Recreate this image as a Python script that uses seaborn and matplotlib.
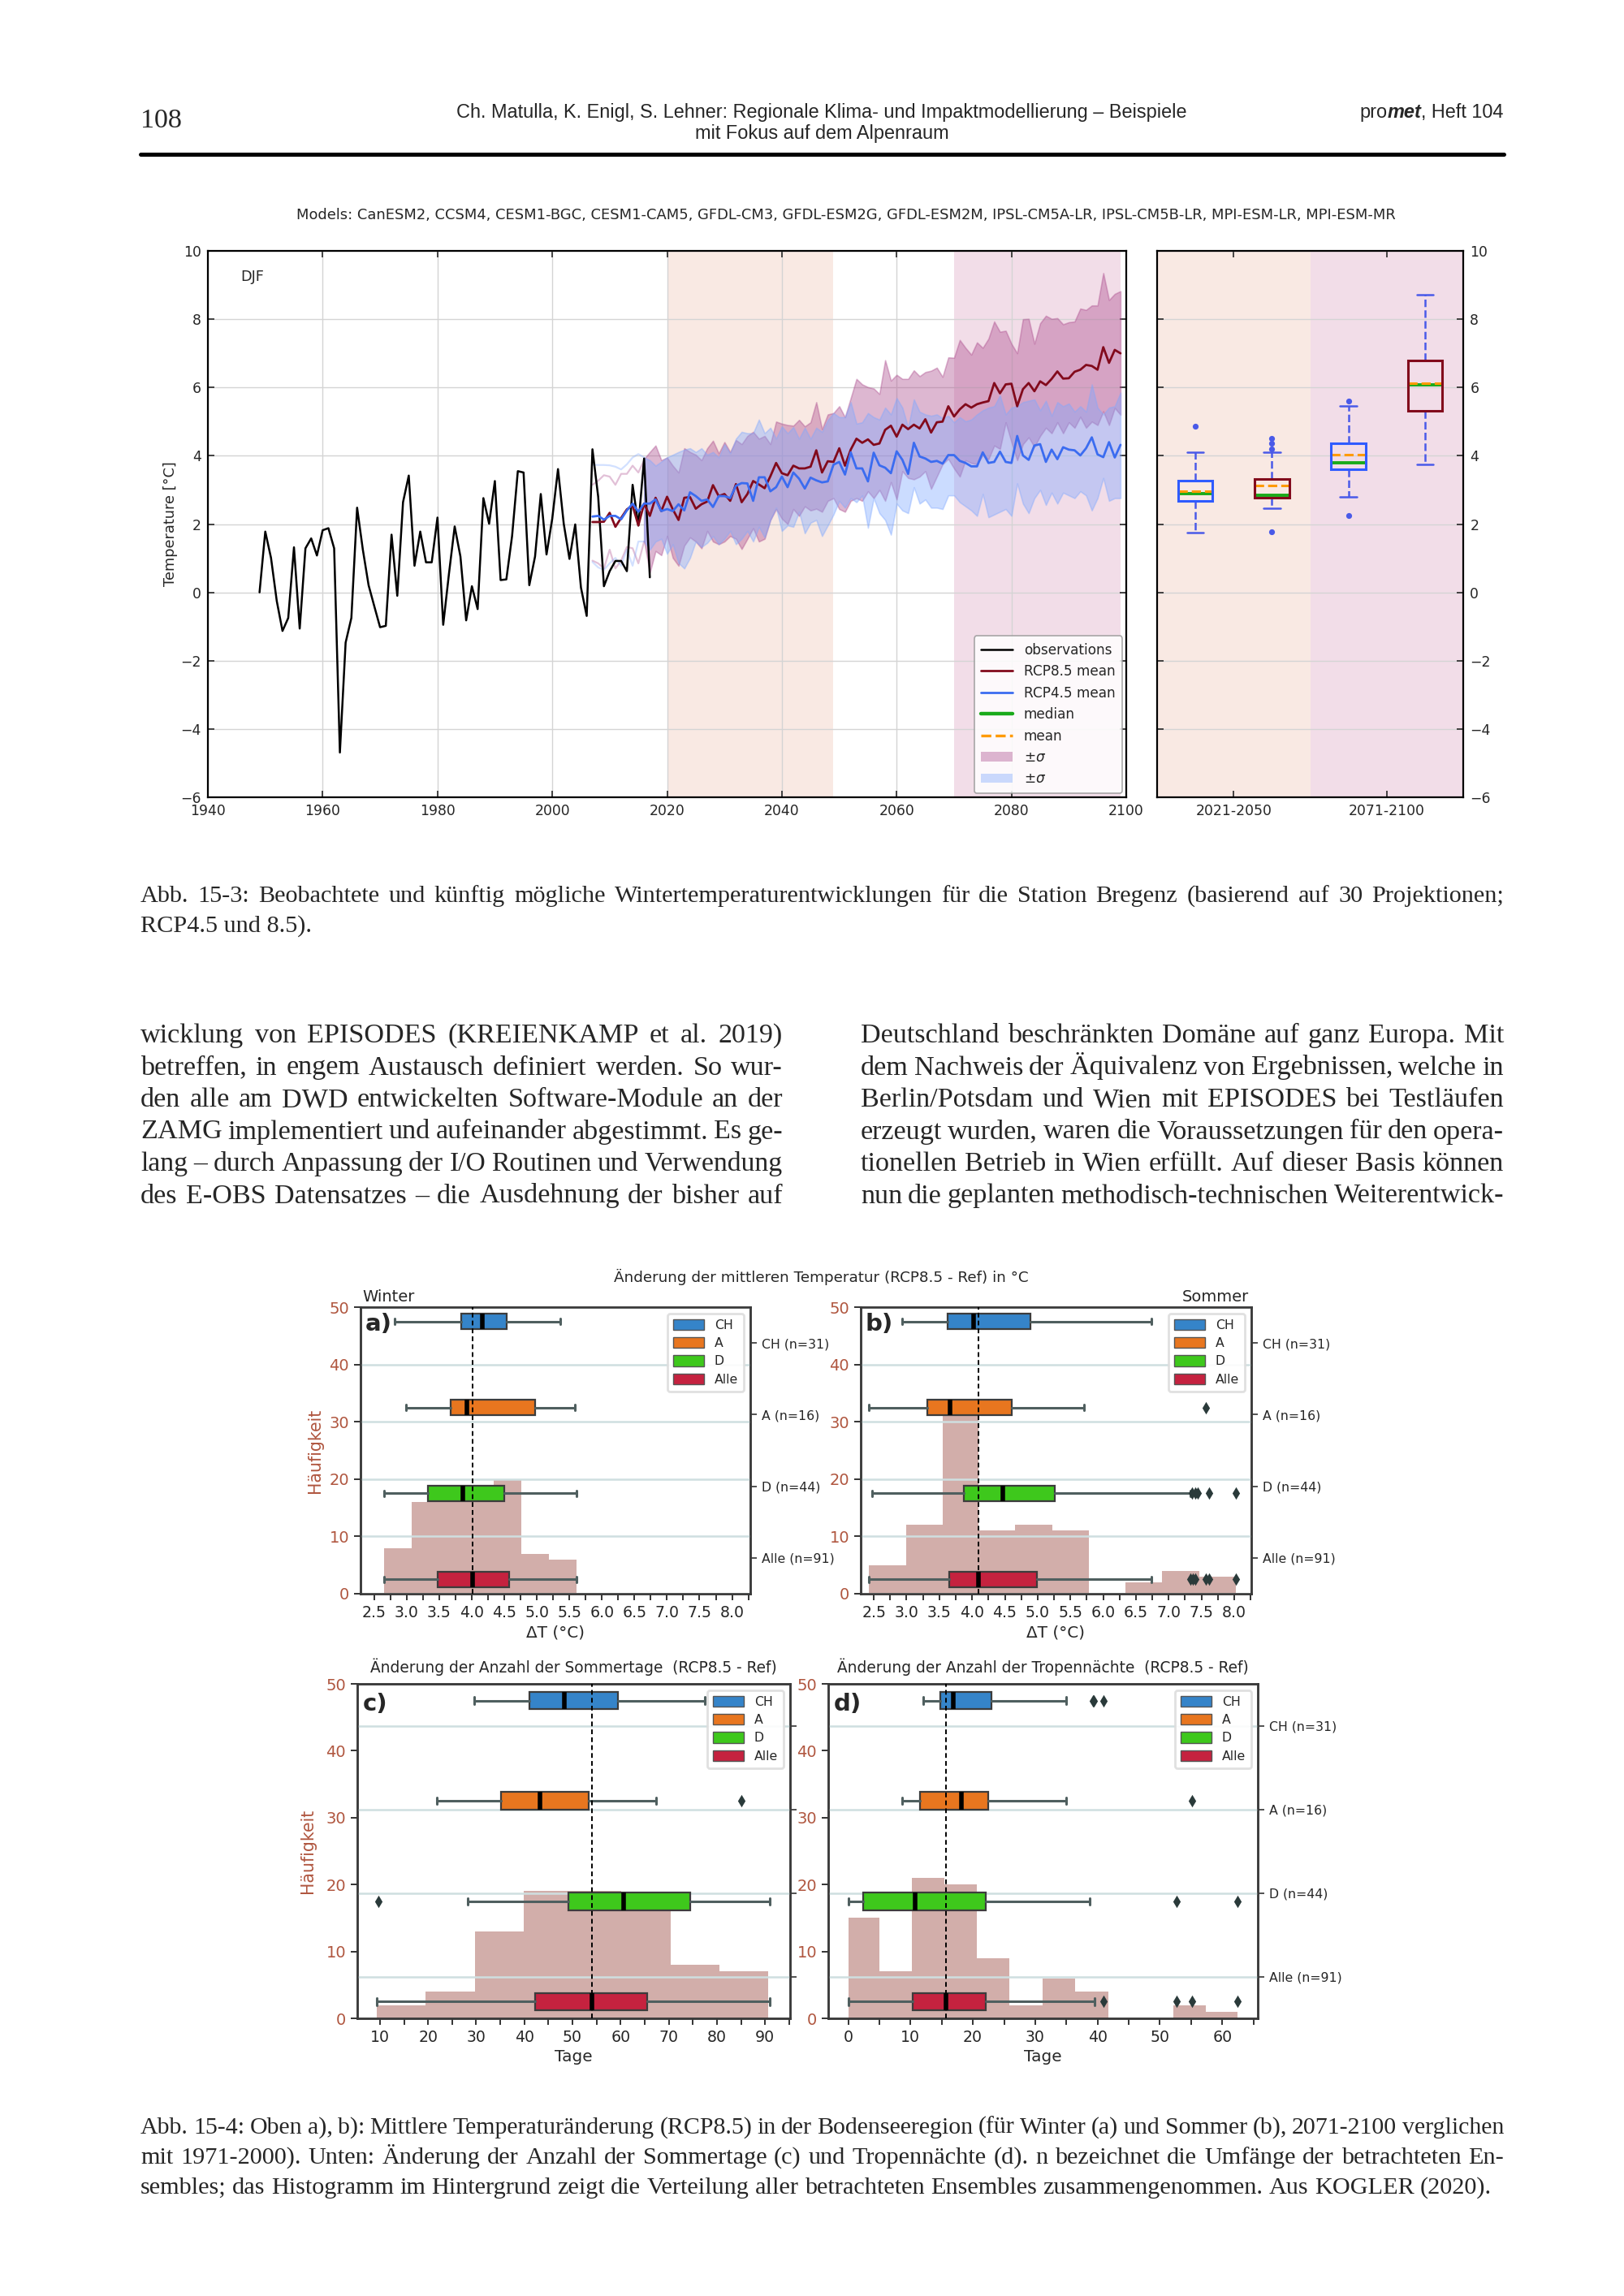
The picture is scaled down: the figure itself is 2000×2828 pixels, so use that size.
import matplotlib
matplotlib.use("Agg")
import matplotlib.pyplot as plt
from matplotlib import font_manager
from matplotlib.lines import Line2D
from matplotlib.patches import Patch
from matplotlib.ticker import MultipleLocator, FormatStrFormatter
import seaborn as sns

# ---------------- Abb. 15-3 : DJF temperature Bregenz ----------------
obs_years = list(range(1949, 2018))
obs_temp = [0.0, 1.78, 1.01, -0.25, -1.13, -0.75, 1.32, -1.06, 1.29, 1.58, 1.08,
            1.82, 1.88, 1.29, -4.69, -1.47, -0.75, 2.48, 1.25, 0.21, -0.41,
            -1.02, -0.98, 1.69, -0.10, 2.64, 3.42, 0.78, 1.78, 0.88, 0.88,
            2.19, -0.95, 0.54, 1.93, 1.05, -0.82, 0.18, -0.49, 2.76, 2.01,
            3.26, 0.36, 0.38, 1.65, 3.55, 3.51, 0.21, 1.05, 2.88, 1.11,
            2.16, 3.61, 2.01, 0.98, 1.99, 0.14, -0.69, 4.19, 2.80, 0.18,
            0.62, 0.92, 0.92, 0.62, 3.15, 1.96, 3.92, 0.44]

proj_years = list(range(2007, 2100))
rcp85_mean = [2.06, 2.06, 2.07, 2.33, 1.92, 2.18, 2.43, 2.54, 1.96, 2.60,
              2.24, 2.77, 2.38, 2.80, 2.43, 2.12, 2.77, 2.79, 2.45, 2.58,
              2.66, 3.14, 2.82, 2.88, 2.68, 3.17, 2.64, 2.88, 3.26, 3.16,
              3.05, 3.40, 3.79, 3.49, 3.43, 3.71, 3.63, 3.63, 3.68, 4.16,
              3.51, 3.84, 3.82, 4.22, 3.71, 4.18, 4.50, 4.38, 4.48, 4.32,
              4.36, 4.76, 4.88, 4.56, 4.91, 4.78, 4.91, 4.80, 5.07, 4.68,
              4.98, 5.00, 5.45, 5.15, 5.36, 5.51, 5.41, 5.51, 5.56, 5.60,
              6.13, 5.83, 6.09, 6.11, 5.45, 5.95, 6.13, 5.89, 6.18, 6.07,
              6.25, 6.47, 6.26, 6.27, 6.46, 6.52, 6.66, 6.63, 6.52, 7.18,
              6.72, 7.10, 7.00]
rcp45_mean = [2.22, 2.24, 2.13, 2.24, 2.24, 2.14, 2.40, 2.60, 2.36, 2.60,
              2.60, 2.72, 2.38, 2.44, 2.38, 2.58, 2.40, 2.93, 2.82, 2.68,
              2.72, 2.50, 2.82, 2.82, 2.76, 3.12, 3.20, 3.19, 2.68, 3.37,
              3.37, 2.96, 3.08, 3.39, 3.08, 3.51, 3.33, 3.04, 3.36, 3.28,
              3.22, 3.25, 3.74, 3.82, 3.45, 4.10, 3.63, 3.63, 3.25, 4.09,
              3.72, 3.65, 3.49, 4.13, 3.88, 3.47, 4.38, 3.98, 3.92, 3.82,
              3.85, 3.77, 4.02, 4.02, 3.85, 3.79, 3.69, 3.69, 4.10, 3.79,
              3.82, 4.12, 3.82, 3.79, 4.58, 4.01, 3.88, 4.30, 4.34, 3.82,
              4.18, 3.90, 4.25, 4.18, 4.16, 4.01, 4.22, 4.54, 4.04, 3.96,
              4.40, 3.95, 4.32]

band_years = list(range(2016, 2100))
rcp85_hi = [3.91, 4.11, 4.30, 3.87, 3.95, 3.71, 3.51, 4.22, 4.11, 4.03,
            3.87, 4.22, 4.44, 4.07, 4.40, 4.11, 4.46, 4.34, 4.58, 4.70,
            4.50, 4.58, 4.34, 5.00, 4.94, 4.90, 4.88, 5.05, 4.86, 4.98,
            5.57, 4.78, 5.21, 5.25, 5.45, 5.13, 5.69, 6.25, 6.09, 6.01,
            5.97, 5.81, 6.80, 6.20, 6.37, 6.25, 6.25, 6.50, 6.33, 6.45,
            6.49, 6.58, 6.31, 6.88, 6.87, 7.39, 7.16, 6.96, 7.32, 7.16,
            7.43, 7.93, 7.63, 7.66, 7.28, 7.00, 8.00, 8.01, 7.28, 7.88,
            8.10, 8.01, 8.03, 7.85, 7.91, 7.93, 8.31, 8.27, 8.40, 8.40,
            9.35, 8.56, 8.74, 8.82]
rcp85_lo = [1.50, 0.58, 1.21, 1.09, 1.65, 1.01, 0.78, 1.37, 1.61, 1.49,
            1.29, 1.80, 1.49, 1.41, 1.49, 1.65, 1.57, 1.27, 1.57, 1.88,
            1.49, 1.57, 2.12, 2.44, 2.16, 2.00, 2.44, 2.24, 2.52, 2.40,
            2.45, 2.36, 2.68, 2.76, 2.44, 2.36, 2.68, 2.76, 2.68, 2.96,
            2.76, 3.00, 2.68, 3.23, 2.72, 3.55, 3.35, 3.31, 3.39, 3.55,
            3.03, 3.39, 3.75, 3.91, 3.63, 3.39, 3.87, 3.79, 3.75, 4.02,
            3.90, 4.30, 4.20, 4.98, 4.40, 3.87, 4.34, 4.54, 4.26, 4.58,
            4.82, 4.66, 4.98, 4.66, 4.98, 4.82, 5.14, 4.82, 5.00, 4.90,
            5.30, 4.90, 5.40, 5.20]
rcp45_hi = [3.95, 3.87, 3.71, 3.83, 3.95, 4.03, 4.11, 4.18, 4.22, 4.11,
            4.22, 4.03, 4.11, 3.95, 4.34, 4.07, 4.50, 4.70, 4.66, 4.66,
            5.06, 4.66, 4.82, 4.50, 4.86, 4.66, 4.84, 4.50, 4.82, 4.50,
            4.82, 4.70, 5.05, 5.25, 5.13, 5.13, 5.57, 4.94, 4.98, 5.25,
            5.13, 5.06, 5.41, 5.21, 5.69, 5.41, 4.82, 5.65, 5.29, 5.21,
            5.17, 5.21, 5.10, 5.17, 4.98, 5.13, 5.01, 5.06, 5.21, 5.33,
            5.41, 5.45, 5.77, 5.21, 5.41, 5.45, 5.57, 5.61, 5.65, 5.33,
            5.61, 5.17, 5.57, 5.45, 5.53, 5.29, 5.45, 5.29, 6.09, 5.41,
            5.21, 5.41, 5.45, 5.85]
rcp45_lo = [1.49, 1.25, 1.49, 1.57, 1.13, 1.41, 0.86, 0.70, 1.01, 1.49,
            1.33, 1.45, 1.65, 1.41, 1.57, 1.80, 1.41, 1.57, 1.80, 1.49,
            1.92, 1.61, 2.12, 2.48, 1.80, 1.96, 1.92, 2.36, 1.73, 2.04,
            2.12, 1.65, 1.96, 2.28, 2.68, 2.48, 2.76, 2.64, 2.84, 1.89,
            2.76, 2.32, 2.12, 1.69, 2.60, 2.40, 2.32, 3.08, 2.60, 2.72,
            2.48, 2.48, 2.44, 2.84, 2.84, 2.64, 2.52, 2.40, 2.24, 2.88,
            2.20, 2.28, 2.36, 2.44, 2.24, 3.19, 2.60, 2.32, 2.76, 3.00,
            2.56, 2.92, 2.60, 2.92, 2.84, 2.76, 2.96, 2.84, 2.40, 2.76,
            3.35, 2.68, 2.76, 2.76]

early_years = list(range(2007, 2017))
early85_hi = [3.15, 3.27, 3.43, 3.39, 3.15, 3.47, 3.47, 3.71, 3.51, 3.87]
early85_lo = [0.93, 0.85, 0.70, 1.25, 0.70, 0.93, 1.33, 1.29, 0.85, 1.49]
early45_hi = [3.74, 3.73, 3.73, 3.72, 3.68, 3.60, 3.75, 3.95, 4.05, 3.95]
early45_lo = [0.89, 0.73, 0.66, 0.85, 1.01, 0.78, 1.25, 0.78, 1.49, 1.49]

models_line = ("Models: CanESM2, CCSM4, CESM1-BGC, CESM1-CAM5, GFDL-CM3, GFDL-ESM2G, "
               "GFDL-ESM2M, IPSL-CM5A-LR, IPSL-CM5B-LR, MPI-ESM-LR, MPI-ESM-MR")

# period boxplots: RCP4.5 / RCP8.5 for 2021-2050, then 2071-2100
period_labels = ["2021-2050", "2071-2100"]
pbox_lo = [1.75, 2.46, 2.79, 3.75]
pbox_q1 = [2.68, 2.78, 3.60, 5.31]
pbox_med = [2.88, 2.84, 3.80, 6.08]
pbox_mean = [2.97, 3.13, 4.03, 6.13]
pbox_q3 = [3.28, 3.31, 4.37, 6.78]
pbox_hi = [4.11, 4.10, 5.46, 8.71]
pbox_fliers = [[4.86], [4.21, 4.36, 4.50, 1.78], [5.59, 2.24], []]

# ---------------- Abb. 15-4 : histograms + boxplots ----------------
regions = ["CH", "A", "D", "Alle"]
region_n = [31, 16, 44, 91]

a_edges = [2.65, 3.07, 3.49, 3.91, 4.34, 4.76, 5.18, 5.61]
a_counts = [8, 16, 16, 18, 20, 7, 6]
a_lo = [2.81, 2.99, 2.65, 2.65]
a_q1 = [3.84, 3.67, 3.32, 3.48]
a_med = [4.16, 3.92, 3.86, 4.01]
a_q3 = [4.54, 4.97, 4.50, 4.57]
a_hi = [5.36, 5.58, 5.61, 5.61]
a_fliers = [[], [], [], []]
a_ref = 4.01

b_edges = [2.43, 2.99, 3.55, 4.10, 4.66, 5.22, 5.78, 6.34, 6.90, 7.47, 8.03]
b_counts = [5, 12, 31, 11, 12, 11, 0, 2, 4, 3]
b_lo = [2.93, 2.42, 2.47, 2.42]
b_q1 = [3.62, 3.32, 3.87, 3.65]
b_med = [4.02, 3.66, 4.47, 4.10]
b_q3 = [4.89, 4.60, 5.26, 4.99]
b_hi = [6.73, 5.71, 7.33, 6.73]
b_fliers = [[], [7.56], [7.36, 7.40, 7.44, 7.61, 8.03], [7.33, 7.37, 7.41, 7.56, 7.61, 8.03]]
b_ref = 4.10

c_edges = [9.4, 19.5, 29.7, 39.9, 50.0, 60.2, 70.4, 80.5, 90.7]
c_counts = [2, 4, 13, 19, 19, 16, 8, 7]
c_lo = [29.6, 21.9, 28.3, 9.4]
c_q1 = [41.0, 35.1, 49.2, 42.2]
c_med = [48.3, 43.2, 60.7, 54.0]
c_q3 = [59.5, 53.4, 74.5, 65.5]
c_hi = [77.5, 67.3, 91.0, 91.0]
c_fliers = [[], [85.0], [9.65], []]
c_ref = 54.0

d_edges = [0.0, 5.0, 10.2, 15.4, 20.7, 25.9, 31.2, 36.4, 41.7, 46.9, 52.1, 57.3, 62.4]
d_counts = [15, 7, 21, 20, 9, 2, 6, 4, 0, 0, 2, 1]
d_lo = [12.05, 8.65, 0.0, 0.0]
d_q1 = [14.76, 11.5, 2.43, 10.4]
d_med = [16.9, 18.2, 10.7, 15.7]
d_q3 = [23.0, 22.5, 22.05, 22.05]
d_hi = [34.9, 35.0, 38.8, 39.5]
d_fliers = [[39.2, 39.4, 40.9], [55.1], [52.7, 62.5], [40.9, 52.7, 55.1, 62.5]]
d_ref = 15.7

# ---------------- page text ----------------
header_line1 = "Ch. Matulla, K. Enigl, S. Lehner: Regionale Klima- und Impaktmodellierung \u2013 Beispiele"
header_line2 = "mit Fokus auf dem Alpenraum"
caption1 = ["Abb. 15-3: Beobachtete und k\u00fcnftig m\u00f6gliche Wintertemperaturentwicklungen f\u00fcr die Station Bregenz (basierend auf 30 Projektionen;",
            "RCP4.5 und 8.5)."]
body_left = ["wicklung von EPISODES (KREIENKAMP et al. 2019)",
             "betreffen, in engem Austausch definiert werden. So wur-",
             "den alle am DWD entwickelten Software-Module an der",
             "ZAMG implementiert und aufeinander abgestimmt. Es ge-",
             "lang \u2013 durch Anpassung der I/O Routinen und Verwendung",
             "des E-OBS Datensatzes \u2013 die Ausdehnung der bisher auf"]
body_right = ["Deutschland beschr\u00e4nkten Dom\u00e4ne auf ganz Europa. Mit",
              "dem Nachweis der \u00c4quivalenz von Ergebnissen, welche in",
              "Berlin/Potsdam und Wien mit EPISODES bei Testl\u00e4ufen",
              "erzeugt wurden, waren die Voraussetzungen f\u00fcr den opera-",
              "tionellen Betrieb in Wien erf\u00fcllt. Auf dieser Basis k\u00f6nnen",
              "nun die geplanten methodisch-technischen Weiterentwick-"]
caption2 = ["Abb. 15-4: Oben a), b): Mittlere Temperatur\u00e4nderung (RCP8.5) in der Bodenseeregion (f\u00fcr Winter (a) und Sommer (b), 2071-2100 verglichen",
            "mit 1971-2000). Unten: \u00c4nderung der Anzahl der Sommertage (c) und Tropenn\u00e4chte (d). n bezeichnet die Umf\u00e4nge der betrachteten En-",
            "sembles; das Histogramm im Hintergrund zeigt die Verteilung aller betrachteten Ensembles zusammengenommen. Aus KOGLER (2020)."]

# ---------------- style ----------------
W, H, DPI = 2000, 2828, 200
sns.set_style("ticks")
plt.rcParams["font.family"] = ["DejaVu Sans"]
plt.rcParams["mathtext.fontset"] = "dejavusans"

have = {f.name for f in font_manager.fontManager.ttflist}
SERIF = "Liberation Serif" if "Liberation Serif" in have else "DejaVu Serif"
NARROW = "Liberation Sans Narrow" if "Liberation Sans Narrow" in have else "Liberation Sans"

RED_LINE, BLUE_LINE = "#820a1c", "#3b6cf0"
RED_BAND, BLUE_BAND = "#ac4d8e", "#7fa8ff"
PEACH, PINK = "#f9e9e3", "#f2dde8"
HIST_C = "#d2aeaa"
REG_C = ["#3584c9", "#e8761f", "#3ec81c", "#c5223f"]
BROWN = "#b0563f"

fig = plt.figure(figsize=(W / DPI, H / DPI), dpi=DPI)
renderer = fig.canvas.get_renderer()


def px_axes(x0, y0, x1, y1):
    return fig.add_axes([x0 / W, 1 - y1 / H, (x1 - x0) / W, (y1 - y0) / H])


def text_px(x, y, s, **kw):
    return fig.text(x / W, 1 - y / H, s, **kw)


def width_px(t):
    return t.get_window_extent(renderer).width


def fit_size(s, target, family, size0=10, **kw):
    t = text_px(0, 0, s, fontsize=size0, family=family, **kw)
    w = width_px(t)
    t.remove()
    return size0 * target / w


def justify(line, x0, x1, base, size, family):
    words = line.split()
    while True:
        arts = [text_px(0, base, w, fontsize=size, family=family, va="baseline") for w in words]
        ws = [width_px(a) for a in arts]
        gap = (x1 - x0 - sum(ws)) / max(len(words) - 1, 1)
        if gap >= 0.2 * size * DPI / 72 or size < 6:
            break
        for a in arts:
            a.remove()
        size *= 0.985
    x = x0
    for a, w in zip(arts, ws):
        a.set_x(x / W)
        x += w + gap


def boxes(ax, stats, pos, width, cap, horizontal, **kw):
    try:
        return ax.bxp(stats, positions=pos, widths=width, capwidths=cap,
                      orientation="horizontal" if horizontal else "vertical", **kw)
    except TypeError:
        return ax.bxp(stats, positions=pos, widths=width, capwidths=cap,
                      vert=not horizontal, **kw)


# ---------------- header ----------------
text_px(173, 157, "108", fontsize=12.3, family=SERIF, va="baseline")
hs = fit_size(header_line1, 896, NARROW)
text_px(1012, 145, header_line1, fontsize=hs, family=NARROW, ha="center", va="baseline")
text_px(1012, 171, header_line2, fontsize=hs, family=NARROW, ha="center", va="baseline")
runs = [("pro", "normal", "normal"), ("met", "bold", "italic"), (", Heft 104", "normal", "normal")]
arts = [text_px(0, 145, s, fontsize=hs, family=NARROW, weight=wt, style=st, va="baseline")
        for s, wt, st in runs]
x = 1852 - sum(width_px(a) for a in arts)
for a in arts:
    a.set_x(x / W)
    x += width_px(a)
fig.add_artist(Line2D([173 / W, 1852 / W], [1 - 190 / H] * 2, lw=1.8, color="black",
                      transform=fig.transFigure))

# ---------------- top figure ----------------
ms = fit_size(models_line, 1352, "DejaVu Sans")
text_px(1042, 265, models_line, fontsize=ms, ha="center", va="center")

ax = px_axes(256, 309, 1387, 982)
ax.axvspan(2020, 2049, color=PEACH, zorder=0.2, lw=0)
ax.axvspan(2070, 2099, color=PINK, zorder=0.2, lw=0)
ax.fill_between(band_years, rcp85_lo, rcp85_hi, color=RED_BAND, alpha=0.4, lw=0.6, zorder=1)
ax.fill_between(band_years, rcp45_lo, rcp45_hi, color=BLUE_BAND, alpha=0.4, lw=0.6, zorder=1.1)
for vals, col in [(early85_hi, RED_BAND), (early85_lo, RED_BAND),
                  (early45_hi, BLUE_BAND), (early45_lo, BLUE_BAND)]:
    sns.lineplot(x=early_years, y=vals, ax=ax, color=col, alpha=0.35, linewidth=0.8,
                 legend=False, zorder=1.2)
sns.lineplot(x=obs_years, y=obs_temp, ax=ax, color="black", linewidth=0.9, legend=False, zorder=3)
sns.lineplot(x=proj_years, y=rcp85_mean, ax=ax, color=RED_LINE, linewidth=1.0, legend=False, zorder=3)
sns.lineplot(x=proj_years, y=rcp45_mean, ax=ax, color=BLUE_LINE, linewidth=1.0, legend=False, zorder=3)
ax.set_xlim(1940, 2100)
ax.set_ylim(-6, 10)
ax.xaxis.set_major_locator(MultipleLocator(20))
ax.yaxis.set_major_locator(MultipleLocator(2))
ax.grid(True, color="#d4d4d4", lw=0.5)
ax.set_axisbelow(True)
ax.tick_params(direction="in", top=True, right=True, length=3, width=0.6, labelsize=6.2, pad=3)
for sp in ax.spines.values():
    sp.set_linewidth(0.8)
    sp.set_color("black")
ax.set_xlabel("")
ax.set_ylabel("Temperature [\u00b0C]", fontsize=6.4)
ax.yaxis.set_label_coords(-0.033, 0.5)
ax.text(0.036, 0.952, "DJF", transform=ax.transAxes, fontsize=6.4, va="center")
handles = [Line2D([], [], color="black", lw=0.9),
           Line2D([], [], color=RED_LINE, lw=1.0),
           Line2D([], [], color=BLUE_LINE, lw=1.0),
           Line2D([], [], color="#1aaa1a", lw=1.6),
           Line2D([], [], color="#ff9a00", lw=1.2, ls="--"),
           Patch(facecolor=RED_BAND, alpha=0.4, lw=0),
           Patch(facecolor=BLUE_BAND, alpha=0.4, lw=0)]
labels = ["observations", "RCP8.5 mean", "RCP4.5 mean", "median", "mean",
          r"$\pm\sigma$", r"$\pm\sigma$"]
leg = ax.legend(handles, labels, loc="lower right", fontsize=6.1, handlelength=2.3,
                labelspacing=0.5, borderpad=0.5, borderaxespad=0.3, framealpha=0.85,
                edgecolor="#999999", fancybox=True)
leg.get_frame().set_linewidth(0.6)

axr = px_axes(1425, 309, 1802, 982)
axr.axvspan(0, 2, color=PEACH, lw=0, zorder=0.2)
axr.axvspan(2, 4, color=PINK, lw=0, zorder=0.2)
pstats = [dict(whislo=pbox_lo[i], q1=pbox_q1[i], med=pbox_med[i], mean=pbox_mean[i],
               q3=pbox_q3[i], whishi=pbox_hi[i], fliers=pbox_fliers[i]) for i in range(4)]
wcol = "#4a5ae8"
bp = boxes(axr, pstats, [0.5, 1.5, 2.5, 3.5], 0.45, 0.22, False,
           patch_artist=True, showmeans=True, meanline=True,
           boxprops=dict(facecolor="none", lw=1.1),
           medianprops=dict(color="#1aaa1a", lw=1.4),
           meanprops=dict(color="#ff9a00", lw=1.1, ls="--"),
           whiskerprops=dict(color=wcol, lw=0.9, ls="--"),
           capprops=dict(color=wcol, lw=0.9),
           flierprops=dict(marker="o", markersize=2.6, markerfacecolor=wcol, markeredgecolor="none"))
for patch, col in zip(bp["boxes"], ["#2f5bff", RED_LINE, "#2f5bff", RED_LINE]):
    patch.set_edgecolor(col)
    patch.set_zorder(3)
axr.set_xlim(0, 4)
axr.set_ylim(-6, 10)
axr.set_xticks([1, 3])
axr.set_xticklabels(period_labels)
axr.yaxis.set_major_locator(MultipleLocator(2))
axr.yaxis.grid(True, color="#d4d4d4", lw=0.5)
axr.set_axisbelow(True)
axr.tick_params(direction="in", top=True, right=True, left=True, labelleft=False,
                labelright=True, length=3, width=0.6, labelsize=6.2, pad=3)
for sp in axr.spines.values():
    sp.set_linewidth(0.8)
    sp.set_color("black")

# ---------------- captions + body ----------------
CAP_SIZE, BODY_SIZE = 10.9, 12.3
justify(caption1[0], 173, 1852, 1111, CAP_SIZE, SERIF)
text_px(173, 1148, caption1[1], fontsize=CAP_SIZE, family=SERIF, va="baseline")
for i, line in enumerate(body_left):
    justify(line, 173, 964, 1284 + 39.5 * i, BODY_SIZE, SERIF)
for i, line in enumerate(body_right):
    justify(line, 1060, 1852, 1284 + 39.5 * i, BODY_SIZE, SERIF)
justify(caption2[0], 173, 1852, 2628, CAP_SIZE, SERIF)
justify(caption2[1], 173, 1852, 2665, CAP_SIZE, SERIF)
justify(caption2[2], 173, 1837, 2702, CAP_SIZE, SERIF)


# ---------------- Abb. 15-4 panels ----------------
def panel(rect, edges, counts, lo, q1, med, q3, hi, fliers, ref, xlim, major, minor, fmt,
          xlabel, ylabel, right_labels, twin_grid, letter):
    ax = px_axes(*rect)
    centers = [(edges[i] + edges[i + 1]) / 2 for i in range(len(counts))]
    sns.histplot(x=centers, weights=counts, bins=edges, ax=ax, color=HIST_C, alpha=1.0,
                 linewidth=0, legend=False, zorder=1)
    ax.set_xlim(*xlim)
    ax.set_ylim(0, 50)
    ax.yaxis.set_major_locator(MultipleLocator(10))
    ax.xaxis.set_major_locator(MultipleLocator(major))
    ax.xaxis.set_minor_locator(MultipleLocator(minor))
    ax.xaxis.set_major_formatter(FormatStrFormatter(fmt))
    if not twin_grid:
        ax.yaxis.grid(True, color="#cfdfe0", lw=0.9)
        ax.set_axisbelow(False)
    ax.tick_params(axis="x", which="both", direction="out", length=3, width=0.7,
                   labelsize=6.8, pad=2, color="#333333")
    ax.tick_params(axis="y", direction="out", length=3, width=0.7, labelsize=7,
                   labelcolor=BROWN, pad=2, color="#333333")
    ax.set_xlabel(xlabel, fontsize=7.2, labelpad=2)
    ax.set_ylabel(ylabel, fontsize=7.4, color=BROWN)
    ax.yaxis.set_label_coords(-0.095, 0.5)

    ax2 = ax.twinx()
    st = [dict(whislo=lo[i], q1=q1[i], med=med[i], q3=q3[i], whishi=hi[i], fliers=fliers[i])
          for i in range(4)]
    bp = boxes(ax2, st, [3.8, 2.6, 1.4, 0.2], 0.21, 0.08, True, patch_artist=True,
               boxprops=dict(edgecolor="#3c3c3c", lw=0.8),
               medianprops=dict(color="black", lw=2.0),
               whiskerprops=dict(color="#4f5f5f", lw=1.1),
               capprops=dict(color="#4f5f5f", lw=1.1),
               flierprops=dict(marker="d", markersize=2.4, markerfacecolor="#2a3a3a",
                               markeredgecolor="#2a3a3a"))
    for patch, col in zip(bp["boxes"], REG_C):
        patch.set_facecolor(col)
    ax2.axvline(ref, color="black", lw=0.7, ls=(0, (3, 2)), zorder=4)
    ax2.set_ylim(0, 4)
    ax2.set_xlim(*xlim)
    ax2.set_yticks([3.5, 2.5, 1.5, 0.5])
    ax2.set_yticklabels([f"{r} (n={n})" for r, n in zip(regions, region_n)])
    ax2.tick_params(axis="y", direction="out", length=3, width=0.6, labelsize=5.7, pad=2,
                    labelright=right_labels, color="#333333")
    if twin_grid:
        ax2.yaxis.grid(True, color="#cfdfe0", lw=0.9)
    for a in (ax, ax2):
        for sp in a.spines.values():
            sp.set_color("#3a3a3a")
            sp.set_linewidth(0.9)
    ax2.legend([Patch(facecolor=c, edgecolor="#555555", lw=0.5) for c in REG_C], regions,
               loc="upper right", fontsize=5.7, handlelength=2.4, handleheight=0.9,
               labelspacing=0.45, borderpad=0.45, borderaxespad=0.5, framealpha=0.9,
               edgecolor="#dddddd")
    ax2.text(0.012, 0.94, letter, transform=ax2.transAxes, fontsize=10.5, weight="bold",
             va="center", zorder=6)
    return ax


text_px(1011, 1573, "\u00c4nderung der mittleren Temperatur (RCP8.5 - Ref) in \u00b0C",
        fontsize=6.6, ha="center", va="center")
text_px(446, 1597, "Winter", fontsize=7, ha="left", va="center")
text_px(1538, 1597, "Sommer", fontsize=7, ha="right", va="center")

panel((444, 1610, 924, 1963), a_edges, a_counts, a_lo, a_q1, a_med, a_q3, a_hi, a_fliers,
      a_ref, (2.29, 8.28), 0.5, 0.25, "%.1f", "\u0394T (\u00b0C)", "H\u00e4ufigkeit",
      True, False, "a)")
panel((1060, 1610, 1541, 1963), b_edges, b_counts, b_lo, b_q1, b_med, b_q3, b_hi, b_fliers,
      b_ref, (2.30, 8.26), 0.5, 0.25, "%.1f", "\u0394T (\u00b0C)", "", True, False, "b)")
axc = panel((440, 2074, 973, 2486), c_edges, c_counts, c_lo, c_q1, c_med, c_q3, c_hi, c_fliers,
            c_ref, (5.3, 95.2), 10, 5, "%d", "Tage", "H\u00e4ufigkeit", False, True, "c)")
axd = panel((1020, 2074, 1549, 2486), d_edges, d_counts, d_lo, d_q1, d_med, d_q3, d_hi, d_fliers,
            d_ref, (-3.2, 65.7), 10, 5, "%d", "Tage", "", True, True, "d)")
axc.set_title("\u00c4nderung der Anzahl der Sommertage  (RCP8.5 - Ref)", fontsize=6.7, pad=5)
axd.set_title("\u00c4nderung der Anzahl der Tropenn\u00e4chte  (RCP8.5 - Ref)", fontsize=6.7, pad=5)

fig.savefig("out.png", dpi=DPI)
